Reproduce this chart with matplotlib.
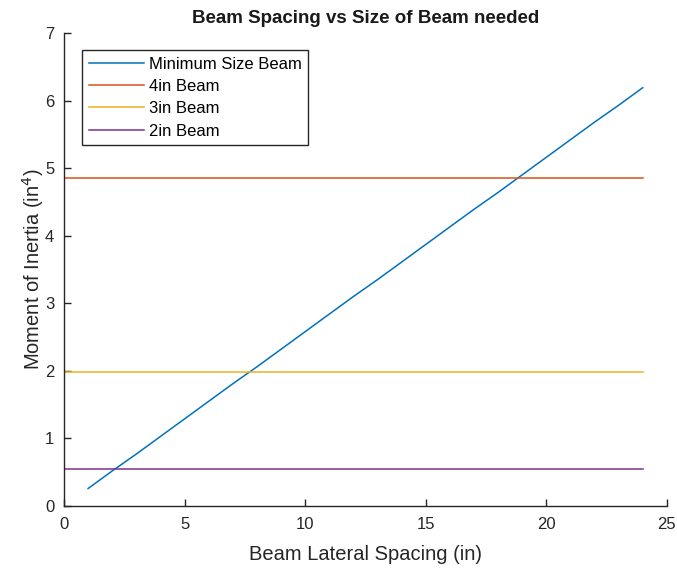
import matplotlib
matplotlib.use("Agg")
import matplotlib.pyplot as plt

plt.rcParams['font.family'] = ['Liberation Sans', 'DejaVu Sans']

# Minimum required moment of inertia vs. lateral spacing
spacing = list(range(1, 25))
min_inertia = [0.26, 0.52, 0.77, 1.03, 1.29, 1.55, 1.81, 2.06, 2.32, 2.58, 2.84, 3.10,
               3.35, 3.61, 3.87, 4.13, 4.39, 4.64, 4.90, 5.16, 5.42, 5.68, 5.93, 6.19]

# Moment of inertia of available beam sizes
beam_labels = ['4in Beam', '3in Beam', '2in Beam']
beam_inertia = [4.85, 1.98, 0.55]
beam_span = [0, 24]

colors = ['#0072BD', '#D95319', '#EDB120', '#7E2F8E']

fig = plt.figure(figsize=(6.77, 5.68), dpi=100)
ax = fig.add_axes([0.0945, 0.109, 0.8905, 0.833])

ax.plot(spacing, min_inertia, color=colors[0], lw=1.1, label='Minimum Size Beam')
for lab, val, c in zip(beam_labels, beam_inertia, colors[1:]):
    ax.plot(beam_span, [val, val], color=c, lw=1.1, label=lab)

ax.set_xlim(0, 25)
ax.set_ylim(0, 7)
ax.set_xticks(range(0, 26, 5))
ax.set_yticks(range(0, 8))
for s in ['top', 'right']:
    ax.spines[s].set_visible(False)
for s in ['left', 'bottom']:
    ax.spines[s].set_color('#262626')
    ax.spines[s].set_linewidth(1.0)
ax.tick_params(direction='in', length=5, width=1.0, labelsize=12, colors='#262626', pad=7)
ax.tick_params(axis='x', pad=8)

ax.set_title('Beam Spacing vs Size of Beam needed', fontsize=13.5, fontweight='bold',
             color='#1a1a1a', pad=7)
ax.set_xlabel('Beam Lateral Spacing (in)', fontsize=14.5, color='#262626', labelpad=9)
ax.set_ylabel('Moment of Inertia (in$^4$)', fontsize=14.5, color='#262626', labelpad=-1)

leg = ax.legend(loc='upper left', bbox_to_anchor=(0.03, 0.964), fontsize=12,
                fancybox=False, framealpha=1, edgecolor='#262626',
                handlelength=3.3, handletextpad=0.3, borderpad=0.4,
                labelspacing=0.44, borderaxespad=0)
leg.get_frame().set_linewidth(1.0)

fig.savefig('out.png', dpi=100)
